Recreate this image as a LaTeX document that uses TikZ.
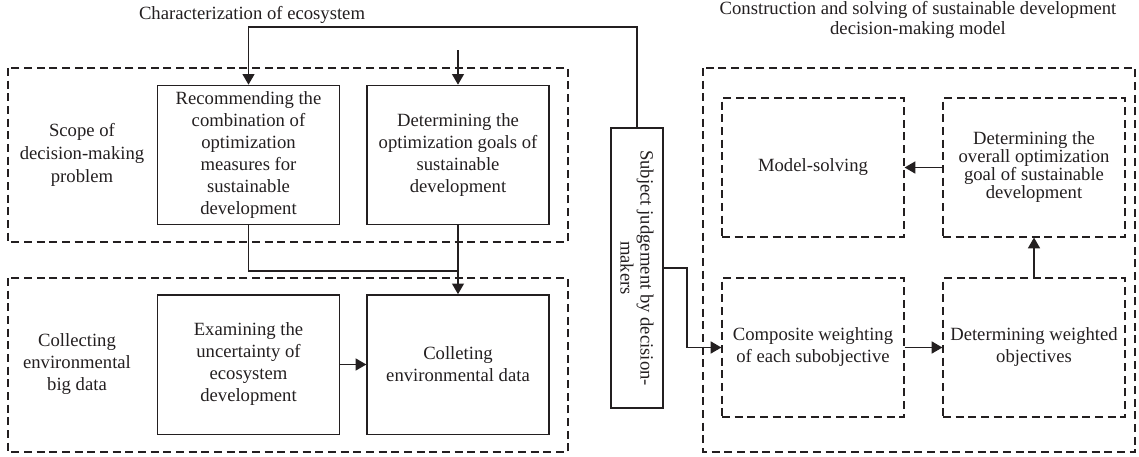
\documentclass[tikz,border=0pt]{standalone}
\usepackage{fontspec}
\setmainfont{Liberation Serif}
\usetikzlibrary{arrows.meta}
\definecolor{ink}{RGB}{35,31,32}
\begin{document}
\begin{tikzpicture}[x=0.75pt,y=-0.75pt,
  font=\fontsize{14pt}{16.5pt}\selectfont,
  every node/.style={text=ink},
  solidbox/.style={draw=ink, line width=1pt, align=center, inner sep=0pt,
    minimum width=136.5pt, minimum height=104.5pt},
  dashbox/.style={draw=ink, line width=0.9pt, dash pattern=on 6pt off 3.5pt},
  innerdash/.style={dashbox, align=center, inner sep=0pt,
    minimum width=136.5pt, minimum height=104.25pt},
  conn/.style={draw=ink, line width=1pt},
  arr/.style={conn, -{Triangle[length=8pt,width=9pt]}},
  lbl/.style={align=center, inner sep=0pt}]
\useasboundingbox (0,0) rectangle (1139,457);

% dashed containers
\draw[dashbox] (8,68) rectangle (568,242);
\draw[dashbox] (8,278) rectangle (568,452);
\draw[dashbox] (703,68) rectangle (1135,452);

% labels
\node[lbl] (charlbl) at (252,15) {Characterization of ecosystem};
\node[lbl, font=\fontsize{14pt}{15pt}\selectfont] (title) at (918,20)
  {Construction and solving of sustainable development\\decision-making model};
\node[lbl, font=\fontsize{14pt}{17pt}\selectfont] (scope) at (82,155) {Scope of\\decision-making\\problem};
\node[lbl] (collab) at (77,364) {Collecting\\environmental\\big data};

% solid boxes
\node[solidbox] (rec) at (248.5,155) {Recommending the\\combination of\\optimization\\measures for\\sustainable\\development};
\node[solidbox] (det) at (458,155) {Determining the\\optimization goals of\\sustainable\\development};
\node[solidbox] (exa) at (248.5,364.5) {Examining the\\uncertainty of\\ecosystem\\development};
\node[solidbox] (col) at (458,364.5) {Colleting\\environmental data};

% subject box (rotated)
\node[draw=ink, line width=1pt, align=center, inner sep=0pt, rotate=-90,
  minimum width=210pt, minimum height=39pt,
  font=\fontsize{14pt}{15pt}\selectfont] (subj) at (637,268)
  {Subject judgement by decision-\\makers};

% right inner dashed boxes
\node[innerdash] (model) at (813,167.5) {Model-solving};
\node[innerdash, font=\fontsize{14pt}{13.5pt}\selectfont] (deto) at (1034,167.5)
  {Determining the\\overall optimization\\goal of sustainable\\development};
\node[innerdash] (comp) at (813,347.5) {Composite weighting\\of each subobjective};
\node[innerdash] (detw) at (1034,347.5) {Determining weighted\\objectives};

% helper coordinates
\coordinate (topy) at (0,27);
\coordinate (detin) at (458,50);
\coordinate (j1) at (248.5,271);
\coordinate (j2) at (458,271);
\coordinate (b1) at (687,300);

% connectors
\draw[arr] (subj.west) -- (subj.west |- topy) -| (rec.north);
\draw[arr] (detin) -- (det.north);
\draw[conn] (rec.south) -- (j1) -- (j2);
\draw[arr] (det.south) -- (col.north);
\draw[arr] (exa.east) -- (col.west);
\draw[arr] (subj.north) -| (b1) |- (comp.west);
\draw[arr] (comp.east) -- (detw.west);
\draw[arr] (detw.north) -- (deto.south);
\draw[arr] (deto.west) -- (model.east);
\end{tikzpicture}
\end{document}
